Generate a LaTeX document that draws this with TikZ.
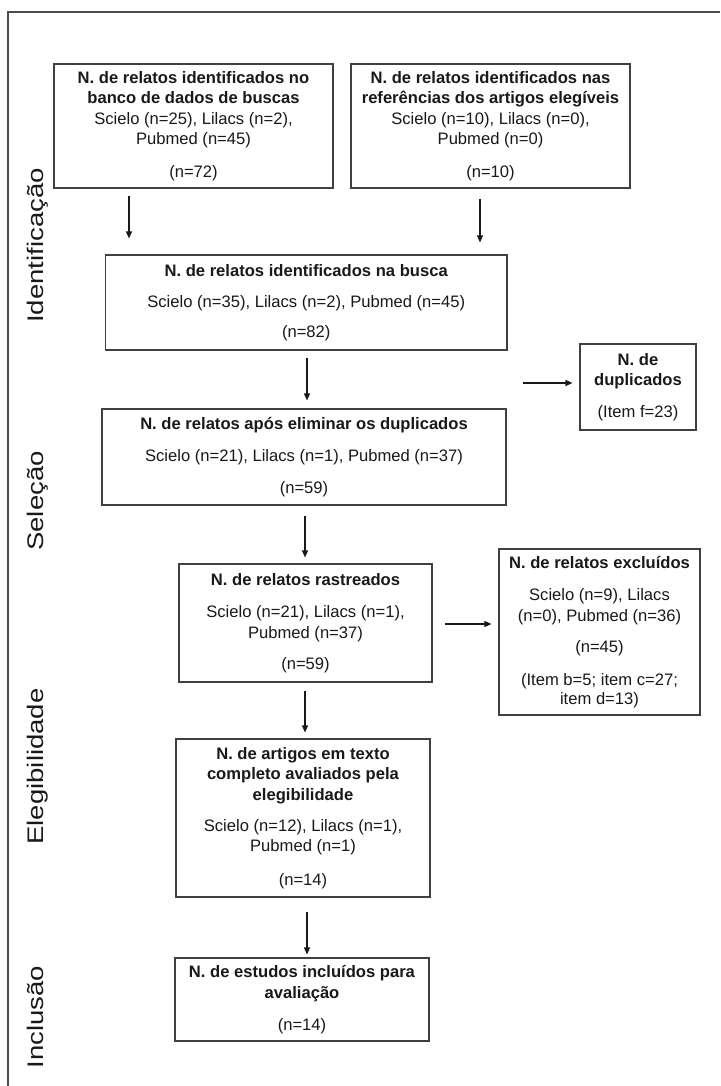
\documentclass[tikz,border=0pt]{standalone}
\usepackage{fontspec}
\setmainfont{Liberation Sans}
\usetikzlibrary{arrows.meta}
\begin{document}
\begin{tikzpicture}[x=1pt,y=-1pt,
  box/.style={draw=black!75, line width=1.1pt, inner sep=0pt, align=center,
    font=\fontsize{16.6}{20.5}\selectfont, text=black!90},
  arr/.style={-{Triangle[length=7pt,width=6pt]}, line width=1.2pt, draw=black!90},
  phase/.style={rotate=90, anchor=base, inner sep=0pt,
    font=\fontsize{27.5}{30}\selectfont, text=black!90}]
\useasboundingbox (0,0) rectangle (720,1086);
\fill[white] (0,0) rectangle (720,1086);
\draw[black!70, line width=1.3pt] (720,12) -- (8,12) -- (8,1086);

\node[box, minimum width=279pt, minimum height=124pt] (b1) at (193.5,126)
  {\textbf{N. de relatos identificados no}\\\textbf{banco de dados de buscas}\\Scielo (n=25), Lilacs (n=2),\\Pubmed (n=45)\\[12.5pt](n=72)};
\node[box, minimum width=279pt, minimum height=124pt] (b2) at (490.5,126)
  {\textbf{N. de relatos identificados nas}\\\textbf{referências dos artigos elegíveis}\\Scielo (n=10), Lilacs (n=0),\\Pubmed (n=0)\\[12.5pt](n=10)};
\node[box, minimum width=401.5pt, minimum height=95pt] (b3) at (306.25,302.5)
  {\textbf{N. de relatos identificados na busca}\\[10.5pt]Scielo (n=35), Lilacs (n=2), Pubmed (n=45)\\[10pt](n=82)};
\node[box, minimum width=116pt, minimum height=86pt] (dup) at (638,387)
  {\textbf{N. de}\\\textbf{duplicados}\\[11.5pt](Item f=23)};
\node[box, minimum width=404pt, minimum height=96pt] (b4) at (304,457)
  {\textbf{N. de relatos após eliminar os duplicados}\\[11.5pt]Scielo (n=21), Lilacs (n=1), Pubmed (n=37)\\[11.5pt](n=59)};
\node[box, minimum width=253pt, minimum height=118pt] (b5) at (305.5,623)
  {\textbf{N. de relatos rastreados}\\[11.5pt]Scielo (n=21), Lilacs (n=1),\\Pubmed (n=37)\\[10.5pt](n=59)};
\node[box, minimum width=201pt, minimum height=166pt] (excl) at (599.5,632)
  {\textbf{N. de relatos excluídos}\\[11.5pt]Scielo (n=9), Lilacs\\(n=0), Pubmed (n=36)\\[10.5pt](n=45)\\[12.5pt](Item b=5; item c=27;\\[-1.5pt]item d=13)};
\node[box, minimum width=254pt, minimum height=158pt] (b6) at (303,818)
  {\textbf{N. de artigos em texto}\\\textbf{completo avaliados pela}\\\textbf{elegibilidade}\\[10.5pt]Scielo (n=12), Lilacs (n=1),\\Pubmed (n=1)\\[13pt](n=14)};
\node[box, minimum width=254pt, minimum height=83pt] (b7) at (302,999.5)
  {\textbf{N. de estudos incluídos para}\\\textbf{avaliação}\\[11.5pt](n=14)};

\node[phase] (l1) at (43,245.5) {\scalebox{1}[0.82]{Identificação}};
\node[phase] (l2) at (43,501) {\scalebox{1}[0.82]{Seleção}};
\node[phase] (l3) at (43,766.5) {\scalebox{1}[0.82]{Elegibilidade}};
\node[phase] (l4) at (43,1017) {\scalebox{1}[0.82]{Inclusão}};

\draw[arr, shorten <=7pt, shorten >=16pt] ([xshift=-64.5pt]b1.south) -- ([xshift=-177.25pt]b3.north);
\draw[arr, shorten <=10pt, shorten >=12pt] ([xshift=-10.5pt]b2.south) -- ([xshift=173.75pt]b3.north);
\draw[arr, shorten <=7pt, shorten >=8pt] ([xshift=0.75pt]b3.south) -- ([xshift=3pt]b4.north);
\draw[arr] ([xshift=-56pt,yshift=4pt]dup.west) -- ([xshift=-7pt,yshift=4pt]dup.west);
\draw[arr, shorten <=10pt, shorten >=6pt] ([xshift=1pt]b4.south) -- ([xshift=-0.5pt]b5.north);
\draw[arr] ([xshift=12pt,yshift=-1pt]b5.east) -- ([xshift=-7pt,yshift=8pt]excl.west);
\draw[arr, shorten <=8pt, shorten >=6pt] ([xshift=-0.5pt]b5.south) -- ([xshift=2pt]b6.north);
\draw[arr, shorten <=14pt, shorten >=3pt] ([xshift=4pt]b6.south) -- ([xshift=5pt]b7.north);
\end{tikzpicture}
\end{document}
